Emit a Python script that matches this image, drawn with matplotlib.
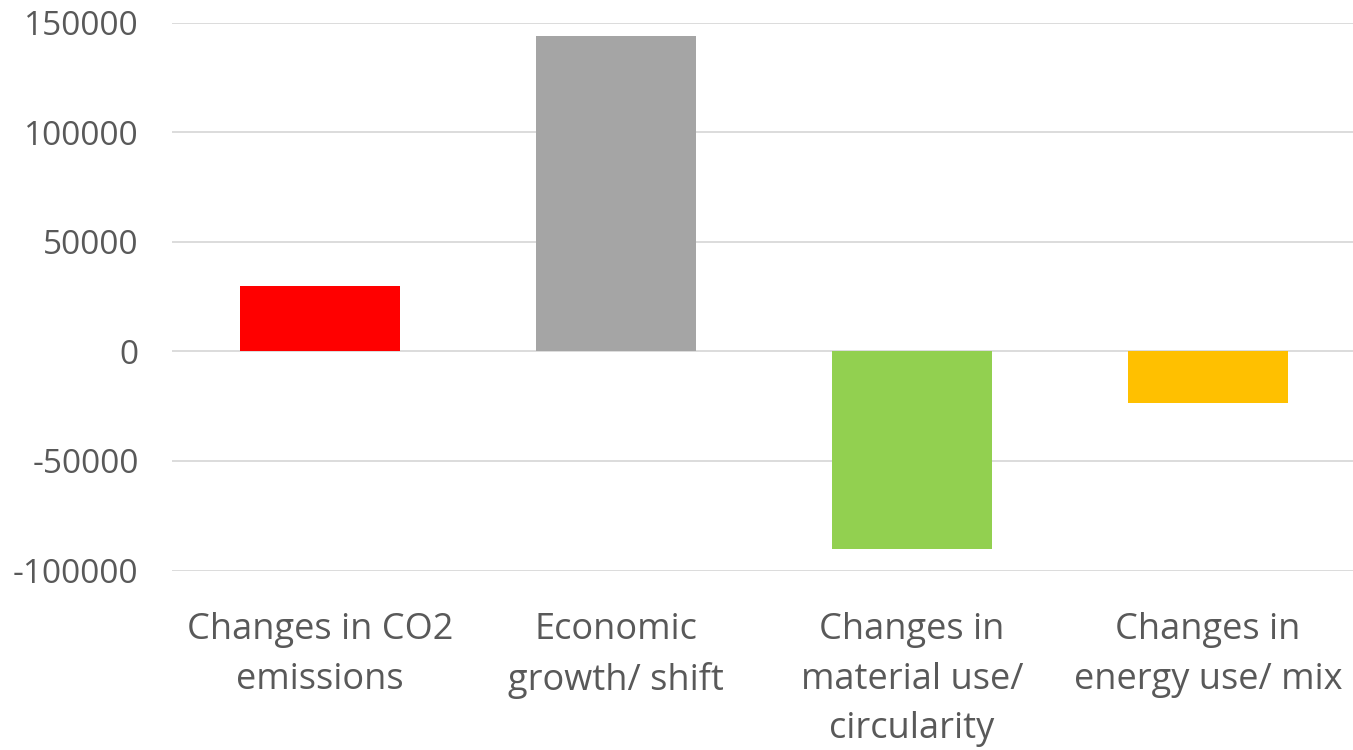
import matplotlib.pyplot as plt

categories = [
    "Changes in CO2\nemissions",
    "Economic\ngrowth/ shift",
    "Changes in\nmaterial use/\ncircularity",
    "Changes in\nenergy use/ mix",
]
values = [30000, 144000, -90000, -23500]
colors = ["#FF0000", "#A5A5A5", "#92D050", "#FFC000"]
yticks = [-100000, -50000, 0, 50000, 100000, 150000]

plt.rcParams["font.family"] = ["Open Sans", "DejaVu Sans"]

fig = plt.figure(figsize=(13.53, 7.5), dpi=100)
ax = fig.add_axes([0.1271, 0.2393, 0.8751, 0.7307])

x = range(len(categories))
ax.bar(x, values, width=0.542, color=colors, zorder=3)

ax.set_xlim(-0.5, len(categories) - 0.5)
ax.set_ylim(yticks[0], yticks[-1])
ax.set_yticks(yticks)
ax.set_yticklabels([str(v) for v in yticks])
ax.set_xticks(list(x))
ax.set_xticklabels(categories, linespacing=1.5)

ax.grid(axis="y", color="#D9D9D9", linewidth=1.3, zorder=0)
for side in ax.spines.values():
    side.set_visible(False)
ax.tick_params(axis="both", length=0, colors="#595959")
ax.tick_params(axis="y", labelsize=24, pad=24)
ax.tick_params(axis="x", labelsize=26, pad=30)

fig.savefig("out.png", dpi=100)
